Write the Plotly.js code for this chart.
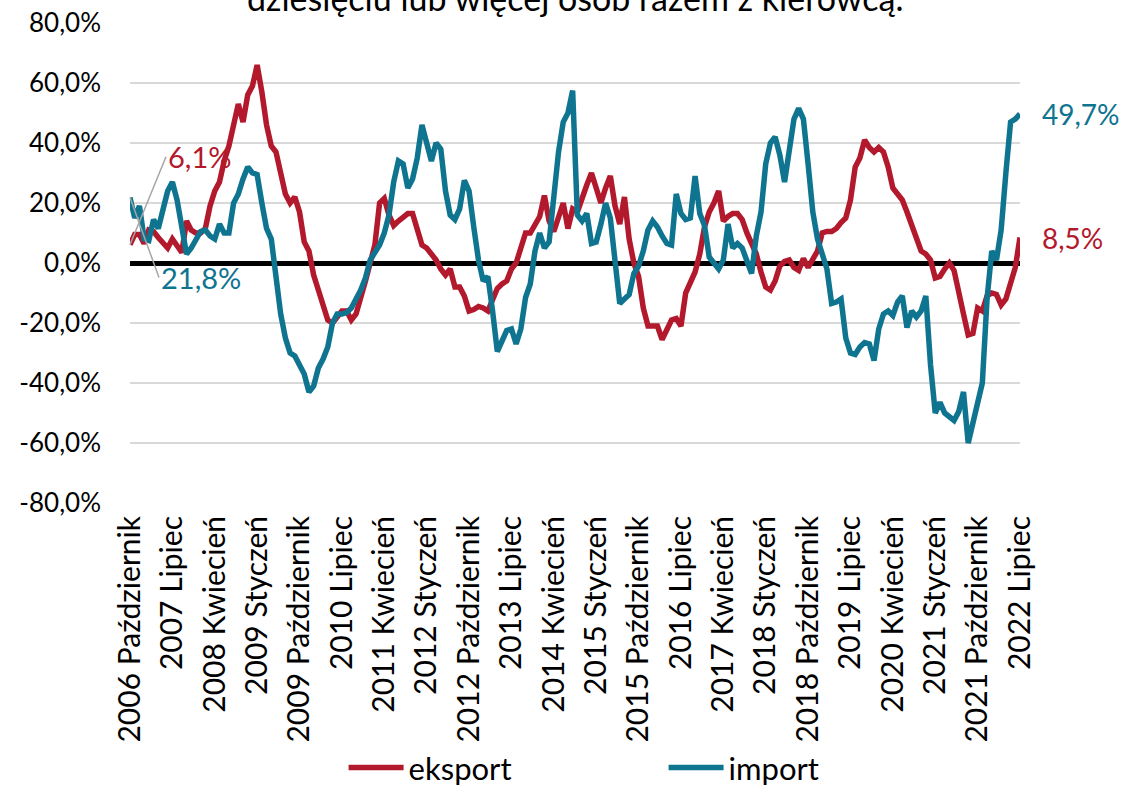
<!DOCTYPE html>
<html>
<head>
<meta charset="utf-8">
<script src="https://cdn.plot.ly/plotly-3.0.1.min.js"></script>
<style>
  html, body { margin: 0; padding: 0; background: #fff; }
  #chart { width: 1124px; height: 787px; }
</style>
</head>
<body>
<div id="chart"></div>
<script>
// ---- data (percent, y/y change), monthly from 2006 Październik to 2022 Lipiec ----
const monthNames = ['Styczeń','Luty','Marzec','Kwiecień','Maj','Czerwiec','Lipiec','Sierpień','Wrzesień','Październik','Listopad','Grudzień'];
const startYear = 2006;
const startMonthIndex = 9; // Październik

const eksport = [
  6.1, 9.5, 9.5, 6.5, 11, 10.5, 8.5, 7, 5, 8,
  6, 3.5, 14, 11, 10, 10, 11.5, 19, 24, 27,
  34, 39, 46, 53, 47, 56, 59, 66, 57, 46,
  39, 37, 30, 23, 20, 22, 17, 7, 4, -4,
  -9, -14, -19, -20, -18, -16, -16, -19, -17, -12,
  -6, 0, 6, 20, 21.5, 16, 12.5, 14, 15.5, 16.5,
  16.5, 11, 6, 5, 3, 1, -2, -4, -2, -8,
  -8, -11, -16, -15.5, -14.5, -15, -16, -12, -8.5, -7,
  -6, -2, 0, 5, 10, 10, 12.5, 15.5, 22.5, 14,
  10.5, 15, 20, 11.5, 18, 17, 22, 26, 30, 25,
  20, 25, 29, 19, 13, 22, 8, 0, -4.5, -15,
  -21, -21, -21, -25.5, -22, -19, -18.5, -21, -10, -6,
  -3, 3, 12, 17, 20, 24, 14, 15.5, 16.5, 16.5,
  14.5, 10, 6, 3, -3, -8, -9, -6, -1, 0.5,
  1, -1.5, -2.5, 1.5, -1.5, 1, 4, 10, 10.5, 10.5,
  11.5, 13.5, 15, 21, 32, 35, 41, 38.5, 37, 38.5,
  37, 32, 25, 23, 21, 17, 13, 9, 4, 3,
  1, -5, -4.5, -2, 0, -2.5, -11, -17, -24, -23.5,
  -15, -16, -11, -10, -10.5, -14, -12, -7, -1.5, 8.5
];

const importValues = [
  21.8, 15, 19, 8, 7.5, 14.5, 11.5, 18, 24, 27,
  21, 12, 3, 5, 7.5, 10.5, 11, 9, 8, 13,
  10, 10, 20, 23, 28, 32, 30, 29.5, 20, 11.5,
  8, -6, -17, -25, -30, -31, -34, -37, -43, -41,
  -35, -32, -28, -20, -17, -17, -16.5, -15, -12, -9,
  -5, 1, 3.5, 6, 10, 16, 27, 34, 33, 25,
  28, 35, 46, 40, 34, 40, 38, 24, 16, 14.5,
  18, 27.5, 24, 12, 1, -6, -4.5, -16, -29.5, -26,
  -22.5, -22, -27, -22, -11.5, -7, 4, 10, 5, 7,
  24, 37, 47, 50, 57.5, 16, 14, 16.5, 6.5, 7,
  13, 20, 15, 2, -13.5, -12, -10.5, -3.5, -1, 4,
  11, 14, 12, 9, 6.5, 6, 23, 16.5, 14.5, 15,
  29, 16.5, 12.5, 2, 0, -2, 1, 13, 5, 6.5,
  5, 0, -3.5, 9, 17, 33, 40, 42, 36, 27,
  38, 48, 51.5, 48, 33, 17, 8, 3, -2, -13.5,
  -13, -12, -25, -30, -30.5, -28, -26.5, -27, -32.5, -22,
  -17, -16, -17.5, -13, -11, -21.5, -16, -18, -16, -11,
  -34, -50, -46.5, -50, -51, -52.5, -49.5, -43, -60, -53,
  -45, -40, -12, 4, 1, 11, 30, 47, 48, 49.7
];

const categories = eksport.map(function (_, k) {
  const m = startMonthIndex + k;
  return (startYear + Math.floor(m / 12)) + ' ' + monthNames[m % 12];
});
const xTickLabels = categories.filter(function (_, k) { return k % 9 === 0; });

const yTickVals = [-80, -60, -40, -20, 0, 20, 40, 60, 80];
const yTickText = ['-80,0%', '-60,0%', '-40,0%', '-20,0%', '0,0%', '20,0%', '40,0%', '60,0%', '80,0%'];

const seriesNames = ['eksport', 'import'];
const colorEksport = '#B3192C';
const colorImport = '#0F7490';
const fontFamily = 'Lato, Carlito, "Open Sans", sans-serif';

const lastIdx = categories.length - 1;
function pct(v) { return v.toFixed(1).replace('.', ',') + '%'; }

const traces = [
  { x: categories, y: eksport, name: seriesNames[0], type: 'scatter', mode: 'lines',
    line: { color: colorEksport, width: 5.5 }, hoverinfo: 'skip' },
  { x: categories, y: importValues, name: seriesNames[1], type: 'scatter', mode: 'lines',
    line: { color: colorImport, width: 5.5 }, hoverinfo: 'skip' }
];

const layout = {
  width: 1124, height: 787,
  margin: { l: 130, r: 104, t: 23, b: 284, autoexpand: false },
  paper_bgcolor: '#fff', plot_bgcolor: '#fff',
  font: { family: fontFamily, color: '#000', size: 25 },
  showlegend: true,
  legend: {
    orientation: 'h', x: 0.24, xanchor: 'left', y: -0.552, yanchor: 'middle',
    font: { size: 31, color: '#000', family: fontFamily },
    entrywidth: 250, entrywidthmode: 'pixels', itemwidth: 55
  },
  xaxis: {
    type: 'category', range: [0, lastIdx], automargin: false,
    tickmode: 'array', tickvals: xTickLabels, ticktext: xTickLabels,
    tickangle: -90, showgrid: false, zeroline: false, showline: false, ticks: '',
    ticklabelstandoff: 6,
    tickfont: { size: 30, color: '#000', family: fontFamily },
    fixedrange: true
  },
  yaxis: {
    range: [-80, 80], automargin: false, tickmode: 'array', tickvals: yTickVals, ticktext: yTickText,
    showgrid: true, gridcolor: '#d9d9d9', gridwidth: 1.5,
    zeroline: true, zerolinecolor: '#000', zerolinewidth: 5,
    showline: false, ticks: '', ticklabelstandoff: 28,
    tickfont: { size: 26, color: '#000', family: fontFamily },
    fixedrange: true
  },
  annotations: [
    { xref: 'paper', yref: 'paper', x: 0.5, y: 1, xanchor: 'center', yanchor: 'bottom', yshift: 3,
      text: 'dziesięciu lub więcej osób razem z kierowcą.', showarrow: false,
      font: { size: 34, color: '#000', family: fontFamily } },
    { x: categories[0], y: eksport[0], text: pct(eksport[0]), showarrow: true, arrowhead: 0,
      arrowwidth: 1.5, arrowcolor: '#a6a6a6', ax: 36, ay: -88, xanchor: 'left',
      font: { size: 29, color: colorEksport, family: fontFamily } },
    { x: categories[0], y: importValues[0], text: pct(importValues[0]), showarrow: true, arrowhead: 0,
      arrowwidth: 1.5, arrowcolor: '#a6a6a6', ax: 29, ay: 80, xanchor: 'left',
      font: { size: 29, color: colorImport, family: fontFamily } },
    { x: categories[lastIdx], y: importValues[lastIdx], text: pct(importValues[lastIdx]), showarrow: false,
      xanchor: 'left', xshift: 20, font: { size: 28, color: colorImport, family: fontFamily } },
    { x: categories[lastIdx], y: eksport[lastIdx], text: pct(eksport[lastIdx]), showarrow: false,
      xanchor: 'left', xshift: 20, font: { size: 28, color: colorEksport, family: fontFamily } }
  ]
};

Plotly.newPlot('chart', traces, layout, { staticPlot: true, displayModeBar: false });
</script>
</body>
</html>
